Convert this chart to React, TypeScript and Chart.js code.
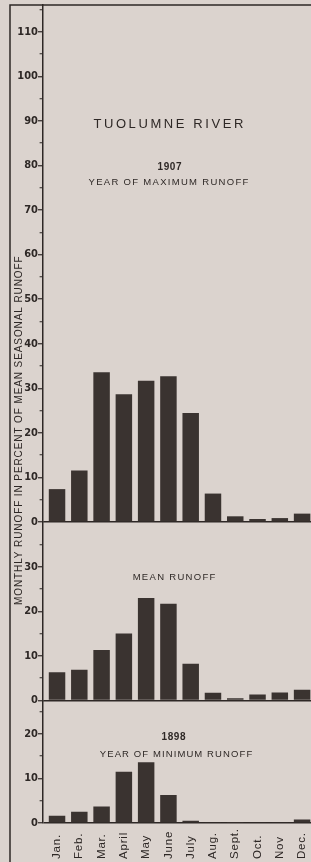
import React, { useEffect, useRef } from "react";
import { Chart, registerables } from "chart.js";

Chart.register(...registerables);

// ---- data ----
const months = ["Jan.", "Feb.", "Mar.", "April", "May", "June", "July", "Aug.", "Sept.", "Oct.", "Nov", "Dec."];
const maxYearRunoff = [7.4, 11.6, 33.6, 28.7, 31.7, 32.7, 24.5, 6.4, 1.3, 0.7, 0.9, 1.9];
const meanRunoff = [6.3, 6.9, 11.3, 15.0, 23.0, 21.7, 8.2, 1.7, 0.5, 1.3, 1.8, 2.4];
const minYearRunoff = [1.6, 2.5, 3.7, 11.5, 13.6, 6.3, 0.5, 0.2, 0.05, 0.25, 0.2, 0.8];
const maxYearLabel = "1907";
const minYearLabel = "1898";
const riverName = "TUOLUMNE RIVER";
const yAxisTitle = "MONTHLY RUNOFF IN PERCENT OF MEAN SEASONAL RUNOFF";

// ---- styles ----
const BG = "#dbd3ce";
const INK = "#2e2826";
const BAR = "#3a3330";
const TICK_FONT = "'Liberation Sans Narrow', 'DejaVu Sans Condensed', 'Roboto Condensed', 'Liberation Sans', sans-serif";
const TEXT_FONT = "'Liberation Sans', Arial, sans-serif";

const annotations = [
  { text: riverName, axis: "yMax", x: 5.0, y: 89.3, size: 13, spacing: 2.6, weight: "normal" },
  { text: maxYearLabel, axis: "yMax", x: 5.05, y: 79.5, size: 10, spacing: 0.6, weight: "bold" },
  { text: "YEAR OF MAXIMUM RUNOFF", axis: "yMax", x: 5.0, y: 76.2, size: 9.5, spacing: 1.3, weight: "normal" },
  { text: "MEAN RUNOFF", axis: "yMean", x: 5.25, y: 27.5, size: 9.5, spacing: 1.3, weight: "normal" },
  { text: minYearLabel, axis: "yMin", x: 5.23, y: 19.3, size: 10, spacing: 0.6, weight: "bold" },
  { text: "YEAR OF MINIMUM RUNOFF", axis: "yMin", x: 5.34, y: 15.5, size: 9.5, spacing: 1.1, weight: "normal" },
];

const toXY = (vals: number[]) => vals.map((v, i) => ({ x: i, y: v }));

function yAxis(max: number, hideFrom: number) {
  return {
    type: "linear",
    position: "left",
    stack: "runoff",
    stackWeight: max,
    min: 0,
    max,
    afterFit: (s: any) => {
      s.width = 43;
      s.paddingTop = 0;
      s.paddingBottom = 0;
    },
    border: { display: true, color: INK, width: 1.5 },
    grid: {
      drawOnChartArea: true,
      drawTicks: true,
      tickLength: 5,
      lineWidth: 1.5,
      tickWidth: 1.2,
      color: (c: any) => (c.tick && c.tick.value === 0 ? INK : "rgba(0,0,0,0)"),
      tickColor: (c: any) => (c.tick && c.tick.value >= hideFrom ? "rgba(0,0,0,0)" : INK),
      tickBorderDash: (c: any) => (c.tick && c.tick.value % 10 === 0 ? [] : [0, 1.6, 10, 0]),
    },
    ticks: {
      stepSize: 5,
      includeBounds: false,
      autoSkip: false,
      padding: 0,
      color: INK,
      font: { family: TICK_FONT, size: 11, weight: "bold" },
      callback: (v: number) => (v % 10 === 0 && v < hideFrom ? String(v) : ""),
    },
  };
}

const decor = {
  id: "decor",
  beforeDraw(chart: any) {
    const { ctx, chartArea } = chart;
    ctx.save();
    ctx.fillStyle = BG;
    ctx.fillRect(0, 0, chart.width, chart.height);
    ctx.strokeStyle = INK;
    ctx.lineWidth = 1.5;
    ctx.beginPath();
    ctx.moveTo(chartArea.left - 33, chart.height);
    ctx.lineTo(chartArea.left - 33, chartArea.top);
    ctx.lineTo(chart.width, chartArea.top);
    ctx.stroke();
    ctx.restore();
  },
  afterDraw(chart: any) {
    const { ctx, chartArea, scales } = chart;
    ctx.save();
    ctx.fillStyle = INK;
    // annotations
    for (const a of annotations) {
      const px = scales.x.getPixelForValue(a.x);
      const py = scales[a.axis].getPixelForValue(a.y);
      ctx.font = `${a.weight} ${a.size}px ${TEXT_FONT}`;
      (ctx as any).letterSpacing = `${a.spacing}px`;
      ctx.textAlign = "center";
      ctx.textBaseline = "middle";
      ctx.fillText(a.text, px + a.spacing / 2, py);
    }
    // y-axis title
    ctx.save();
    ctx.font = `normal 10px ${TEXT_FONT}`;
    (ctx as any).letterSpacing = "0.9px";
    ctx.translate(chartArea.left - 23.5, scales.yMax.getPixelForValue(20.6));
    ctx.rotate(-Math.PI / 2);
    ctx.textAlign = "center";
    ctx.textBaseline = "middle";
    ctx.fillText(yAxisTitle, 0, 0);
    ctx.restore();
    // month labels
    ctx.font = `normal 11.5px ${TEXT_FONT}`;
    (ctx as any).letterSpacing = "0.8px";
    months.forEach((m, i) => {
      const px = scales.x.getPixelForValue(i);
      ctx.save();
      ctx.translate(px, chartArea.bottom + 36);
      ctx.rotate(-Math.PI / 2);
      ctx.textAlign = "left";
      ctx.textBaseline = "middle";
      ctx.fillText(m, 0, 0);
      ctx.restore();
    });
    ctx.restore();
  },
};

export default function App() {
  const ref = useRef<HTMLCanvasElement>(null);
  useEffect(() => {
    const barStyle = {
      backgroundColor: BAR,
      borderWidth: 0,
      grouped: false,
      categoryPercentage: 1,
      barPercentage: 0.74,
    };
    const chart = new Chart(ref.current as HTMLCanvasElement, {
      type: "bar",
      data: {
        datasets: [
          { label: maxYearLabel, data: toXY(maxYearRunoff), yAxisID: "yMax", ...barStyle },
          { label: "Mean", data: toXY(meanRunoff), yAxisID: "yMean", ...barStyle },
          { label: minYearLabel, data: toXY(minYearRunoff), yAxisID: "yMin", ...barStyle },
        ] as any,
      },
      options: {
        animation: false,
        responsive: false,
        devicePixelRatio: 1,
        layout: { padding: { left: 0, top: 5, right: 0, bottom: 39 } },
        plugins: { legend: { display: false }, tooltip: { enabled: false } },
        scales: {
          x: {
            type: "linear",
            display: false,
            offset: false,
            min: -0.63,
            max: 11.4,
          },
          yMin: yAxis(27.5, 1000),
          yMean: yAxis(40, 40),
          yMax: yAxis(116, 1000),
        } as any,
      },
      plugins: [decor],
    } as any);
    return () => chart.destroy();
  }, []);
  return (
    <div
      style={{
        position: "absolute",
        left: 0,
        top: 0,
        width: 311,
        height: 862,
        background: BG,
        overflow: "hidden",
      }}
    >
      <canvas ref={ref} width={311} height={862} style={{ display: "block", width: 311, height: 862 }} />
    </div>
  );
}
